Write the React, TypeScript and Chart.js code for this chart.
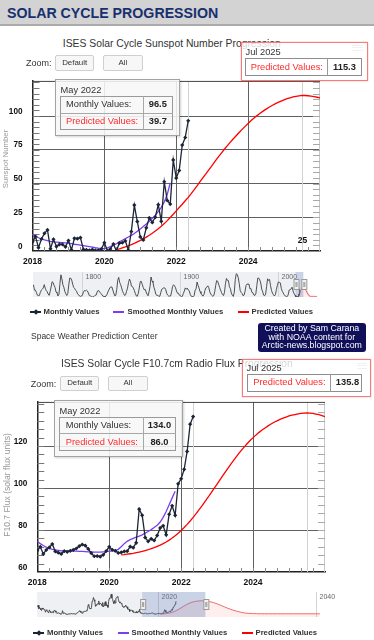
import React, { useEffect, useRef } from 'react';
import { Chart, registerables } from 'chart.js';
Chart.register(...registerables);

const FONT = '"Liberation Sans", Arial, Helvetica, sans-serif';
const MONTHS = ['Jan', 'Feb', 'Mar', 'Apr', 'May', 'Jun', 'Jul', 'Aug', 'Sep', 'Oct', 'Nov', 'Dec'];

// ---------------- DATA ----------------
// Monthly series start Jan 2018
const MAIN_START = 2018;
// Predicted series start May 2020
const PRED_START = 2020 + 4 / 12;
// Navigator extension of predictions: half-year steps from mid 2026
const EXT_START = 2026.5;
const EXT_STEP = 0.5;
// Yearly sunspot history start (yearly means)
const HIST_START = 1749;
// F10.7 navigator history start (Aug 2004, monthly)
const F107_HIST_START = 2004 + 7 / 12;

const xTickLabels = [2018, 2020, 2022, 2024];
const ssnTickLabels = [0, 25, 50, 75, 100];
const f107TickLabels = [60, 80, 100, 120];
const navTicks1 = [1800, 1900, 2000];
const navTicks2 = [2020, 2040];

const ssnMonthly = [
  6.8, 10.7, 2.5, 8.9, 13.1, 15.6, 1.6, 8.7, 3.3, 4.9, 4.9, 3.1,
  7.7, 0.8, 9.4, 9.1, 9.9, 1.2, 0.9, 0.5, 1.1, 0.4, 0.5, 1.5,
  6.2, 0.2, 1.5, 5.2, 0.2, 5.8, 6.1, 7.5, 0.6, 14.4, 34.0, 21.8,
  10.4, 8.2, 17.2, 24.5, 21.2, 25.0, 34.3, 22.0, 51.3, 37.4, 34.8, 67.5,
  54.0, 59.7, 78.5, 84.1, 96.5,
];
const ssnSmoothed = [
  12.5, 11.0, 9.8, 8.9, 8.2, 7.6, 7.1, 6.8, 6.6, 6.4, 6.2, 6.0,
  5.8, 5.4, 5.0, 4.7, 4.4, 4.0, 3.6, 3.2, 2.8, 2.4, 2.1, 1.9,
  1.8, 2.4, 3.2, 4.2, 5.4, 6.8, 8.0, 9.2, 10.4, 11.6, 13.0, 14.6,
  16.3, 18.1, 20.0, 22.0, 24.2, 26.6, 29.2, 32.3, 36.3, 42.0, 50.5,
];
const ssnPredicted = [
  1.0, 1.6, 2.3, 3.0, 3.8, 4.7, 5.7, 6.8,
  7.9, 9.0, 10.3, 11.7, 13.2, 14.8, 16.5, 18.3, 20.3, 22.5, 24.8, 27.2,
  29.7, 32.2, 34.6, 37.2, 39.7, 42.5, 45.5, 48.5, 51.5, 54.5, 57.5, 60.5,
  63.5, 66.5, 69.5, 72.4, 75.2, 77.9, 80.5, 83.0, 85.4, 87.8, 90.1, 92.3,
  94.5, 96.6, 98.5, 100.3, 102.0, 103.6, 105.1, 106.5, 107.8, 109.0, 110.1, 111.1,
  112.0, 112.8, 113.5, 114.1, 114.6, 115.0, 115.3, 115.2, 115.0, 114.7, 114.3, 113.9,
  113.5,
];
const ssnPredictedExt = [
  110, 105, 98, 89, 79, 68, 57, 46, 36, 27, 20, 14, 10, 8, 7, 7, 7, 7, 7, 7, 7, 7, 7, 7, 7, 7, 7, 7, 7,
];
const ssnYearly = [
  134.7, 139.0, 79.5, 79.7, 51.2, 20.3, 16.0, 17.0, 54.0, 79.3, 90.0, 104.8, 143.2, 102.0, 75.2, 60.7, 34.8, 19.0, 63.0, 116.3,
  176.8, 168.0, 136.0, 110.8, 58.0, 51.0, 11.7, 33.0, 154.2, 257.3, 209.8, 141.3, 113.5, 64.2, 38.0, 17.0, 40.2, 138.2, 220.0, 218.2,
  196.8, 149.8, 111.0, 100.0, 78.2, 68.3, 35.5, 26.7, 10.7, 6.8, 11.3, 24.2, 56.7, 75.0, 71.8, 79.2, 70.3, 46.8, 16.8, 13.5,
  4.2, 0.0, 2.3, 8.3, 20.3, 23.2, 59.0, 76.3, 68.3, 52.9, 38.5, 24.2, 9.2, 6.3, 2.2, 11.4, 28.2, 59.9, 83.0, 108.5,
  115.2, 117.4, 80.8, 44.3, 13.4, 19.5, 85.8, 192.7, 227.3, 168.7, 143.0, 105.5, 63.3, 40.3, 18.1, 25.1, 65.8, 102.7, 166.3, 208.3,
  182.5, 126.3, 122.0, 102.7, 74.1, 39.0, 12.7, 8.2, 43.4, 104.4, 178.3, 182.2, 146.6, 112.1, 83.5, 89.2, 57.8, 30.7, 13.9, 62.8,
  123.6, 232.0, 185.3, 169.2, 110.1, 74.5, 28.3, 18.9, 20.7, 5.7, 10.0, 53.7, 90.5, 99.0, 106.1, 105.8, 86.3, 42.4, 21.8, 11.2,
  10.4, 11.8, 59.5, 121.7, 142.0, 130.0, 106.6, 69.4, 43.8, 44.4, 20.2, 15.7, 4.6, 8.5, 40.8, 70.1, 105.5, 90.1, 102.8, 80.9,
  73.2, 30.9, 9.5, 6.0, 2.4, 16.1, 79.0, 95.0, 173.6, 134.6, 105.7, 62.7, 43.5, 23.7, 9.7, 27.9, 74.0, 106.5, 114.7, 129.7,
  108.2, 59.4, 35.1, 18.6, 9.2, 14.6, 60.2, 132.8, 190.6, 182.6, 148.0, 113.0, 79.2, 50.8, 27.1, 16.1, 55.3, 154.3, 214.7, 193.0,
  190.7, 118.9, 98.3, 45.0, 20.1, 6.6, 54.2, 200.7, 269.3, 261.7, 225.1, 159.0, 76.4, 53.4, 39.9, 15.0, 22.0, 66.8, 132.9, 150.0,
  149.4, 148.0, 94.4, 97.6, 54.1, 49.2, 22.5, 18.4, 39.3, 131.0, 220.1, 218.9, 198.9, 162.4, 91.0, 60.5, 20.6, 14.8, 33.9, 123.0,
  211.1, 191.8, 203.3, 133.0, 76.1, 44.9, 25.1, 11.6, 28.9, 88.3, 136.3, 173.9, 170.4, 163.6, 99.3, 65.3, 45.8, 24.7, 12.6, 4.2,
  4.8, 24.9, 80.8, 84.5, 94.0, 113.3, 69.8, 39.8, 21.7,
];

const f107Monthly = [
  70.2, 72.0, 68.6, 70.5, 71.7, 73.3, 69.8, 69.2, 68.6, 69.9, 69.6, 70.1,
  70.5, 71.2, 72.3, 73.1, 72.6, 71.0, 69.0, 67.5, 67.6, 67.3, 68.2, 70.0,
  72.0, 70.6, 70.1, 69.1, 69.3, 69.8, 69.9, 72.1, 71.6, 73.9, 89.9, 87.0,
  76.4, 74.6, 75.8, 75.0, 77.4, 81.0, 82.0, 77.7, 87.5, 91.5, 87.0, 102.0,
  104.4, 108.9, 117.4, 130.4, 134.0,
];
const f107Smoothed = [
  74.5, 73.5, 72.6, 71.8, 71.2, 70.8, 70.5, 70.3, 70.1, 70.0, 70.0, 69.9,
  69.9, 69.9, 69.8, 69.8, 69.7, 69.6, 69.6, 69.5, 69.5, 69.5, 69.6, 69.7,
  69.9, 70.0, 70.2, 70.8, 72.0, 73.5, 74.6, 75.4, 76.0, 76.6, 77.1, 77.7,
  78.5, 79.3, 80.2, 81.2, 82.3, 83.8, 86.0, 88.8, 92.0, 95.3, 98.5,
];
const f107Predicted = [
  68.2, 68.3, 68.5, 68.7, 68.9, 69.2, 69.5, 69.8,
  70.2, 70.6, 71.1, 71.6, 72.2, 72.8, 73.5, 74.3, 75.2, 76.2, 77.3, 78.5,
  79.8, 81.2, 82.7, 84.3, 86.0, 87.8, 89.7, 91.6, 93.6, 95.6, 97.7, 99.8,
  101.9, 104.0, 106.1, 108.2, 110.2, 112.2, 114.1, 116.0, 117.8, 119.5, 121.1, 122.6,
  124.0, 125.3, 126.5, 127.6, 128.6, 129.6, 130.5, 131.3, 132.0, 132.7, 133.3, 133.8,
  134.3, 134.7, 135.0, 135.3, 135.5, 135.7, 135.8, 135.7, 135.5, 135.2, 134.9, 134.5,
  134.0,
];
const f107PredictedExt = [
  132, 127, 120, 112, 103, 95, 88, 82, 77, 73, 71, 70, 69.5, 69, 69, 69, 69, 69, 69, 69, 69, 69, 69, 69, 69, 69, 69, 69, 69,
];
const f107History = [
  122, 103, 106, 113, 95,
  102, 97, 90, 86, 99, 93, 96, 90, 91, 77, 86, 90,
  83, 76, 75, 89, 81, 76, 75, 79, 77, 74, 86, 84,
  84, 77, 72, 72, 74, 74, 72, 69, 67, 68, 70, 85,
  72, 71, 73, 70, 68, 66, 66, 67, 68, 68, 69, 69,
  70, 70, 69, 69, 70, 69, 68, 67, 71, 73, 73, 77,
  82, 85, 83, 76, 74, 72, 80, 79, 81, 82, 82, 84,
  83, 95, 116, 113, 96, 96, 94, 102, 134, 137, 153, 141,
  133, 107, 115, 113, 121, 120, 135, 115, 123, 123, 120, 108,
  127, 104, 111, 125, 131, 110, 115, 114, 102, 132, 148, 147,
  158, 170, 150, 144, 130, 122, 137, 124, 146, 153, 155, 158,
  141, 129, 126, 129, 121, 123, 107, 106, 102, 104, 109, 113,
  103, 105, 93, 93, 93, 81, 86, 86, 87, 86, 78, 75,
  77, 77, 74, 81, 74, 75, 80, 78, 92, 76, 72, 71,
];

// ---------------- helpers ----------------
const monthlyPts = (start: number, vals: number[]) => vals.map((y, i) => ({ x: start + i / 12, y }));
const stepPts = (start: number, step: number, vals: number[]) => vals.map((y, i) => ({ x: start + i * step, y }));
const monthLabel = (x: number) => {
  const m = Math.round(x * 12);
  return `${MONTHS[m % 12]} ${Math.floor(m / 12)}`;
};
const lastX = (vals: number[]) => MAIN_START + (vals.length - 1) / 12;
const predAt = (pred: number[], x: number) => pred[Math.round((x - PRED_START) * 12)];
const peakX = (pred: number[]) => PRED_START + pred.indexOf(Math.max(...pred)) / 12;

function seg(ctx: any, x1: number, y1: number, x2: number, y2: number) {
  ctx.beginPath();
  ctx.moveTo(x1, y1);
  ctx.lineTo(x2, y2);
  ctx.stroke();
}

// ---------------- main chart ----------------
function MainChart(p: any) {
  const ref = useRef<HTMLCanvasElement>(null);
  useEffect(() => {
    const frame = {
      id: 'frame',
      beforeDatasetsDraw(chart: any) {
        const { ctx, chartArea: a } = chart;
        const x = chart.scales.x;
        const y = chart.scales.y;
        ctx.save();
        ctx.lineWidth = 1;
        ctx.strokeStyle = '#d2d2d2';
        p.crosshairs.forEach((v: number) => {
          const px = Math.round(x.getPixelForValue(v)) + 0.5;
          seg(ctx, px, a.top, px, a.bottom);
        });
        ctx.strokeStyle = '#c8c8c8';
        seg(ctx, a.right - 0.5, a.top, a.right - 0.5, a.bottom);
        ctx.strokeStyle = '#444';
        seg(ctx, a.left, a.top + 0.5, a.right, a.top + 0.5);
        for (let v = y.min + p.minorStep; v < y.max - 0.01; v += p.minorStep) {
          const py = Math.round(y.getPixelForValue(v)) + 0.5;
          ctx.strokeStyle = '#777';
          seg(ctx, a.left, py, a.left + 7, py);
          ctx.strokeStyle = '#aaa';
          seg(ctx, a.right - 7, py, a.right, py);
        }
        ctx.strokeStyle = '#888';
        for (let v = x.min + 1 / 3; v < x.max - 0.01; v += 1 / 3) {
          const px = Math.round(x.getPixelForValue(v)) + 0.5;
          seg(ctx, px, a.bottom - 4, px, a.bottom);
        }
        ctx.restore();
      },
    };
    const tickFont = { family: FONT, size: 8.5, weight: 'bold' as const };
    const chart = new Chart(ref.current as HTMLCanvasElement, {
      type: 'line',
      data: {
        datasets: [
          {
            label: 'Monthly Values',
            data: monthlyPts(MAIN_START, p.monthly),
            borderColor: '#1b2536',
            backgroundColor: '#1b2536',
            borderWidth: 1.3,
            pointStyle: 'rectRot',
            pointRadius: 2.1,
            pointBorderWidth: 0,
            pointBackgroundColor: '#1b2536',
            tension: 0,
          },
          {
            label: 'Smoothed Monthly Values',
            data: monthlyPts(MAIN_START, p.smoothed),
            borderColor: '#7b3cf2',
            borderWidth: 1.3,
            pointRadius: 0,
            tension: 0,
          },
          {
            label: 'Predicted Values',
            data: monthlyPts(PRED_START, p.predicted),
            borderColor: '#ff0000',
            borderWidth: 1.3,
            pointRadius: 0,
            tension: 0,
          },
        ],
      } as any,
      options: {
        responsive: false,
        animation: false,
        devicePixelRatio: 1,
        events: [],
        layout: { padding: { top: 10, right: 374 - p.plotRight, left: 0, bottom: 0 } },
        plugins: { legend: { display: false }, tooltip: { enabled: false } },
        scales: {
          x: {
            type: 'linear',
            min: 2018,
            max: 2026,
            afterFit: (s: any) => { s.height = 19; },
            grid: {
              drawTicks: false,
              lineWidth: 1,
              color: (c: any) => (c.tick && (c.tick.value <= 2018 || c.tick.value >= 2026) ? 'rgba(0,0,0,0)' : '#606060'),
            },
            border: { color: '#222', width: 1.5 },
            ticks: {
              stepSize: 2,
              autoSkip: false,
              maxRotation: 0,
              padding: 6,
              color: '#111',
              font: tickFont,
              callback: (v: any) => (xTickLabels.includes(Number(v)) ? String(v) : ''),
            },
          },
          y: {
            type: 'linear',
            min: p.yMin,
            max: p.yMax,
            afterFit: (s: any) => { s.width = p.plotLeft; },
            grid: {
              drawTicks: false,
              lineWidth: 1,
              color: (c: any) =>
                c.tick && (c.tick.value === p.yMin || !p.yLabels.includes(c.tick.value)) ? 'rgba(0,0,0,0)' : '#606060',
            },
            border: { color: '#222', width: 1.5 },
            ticks: {
              stepSize: p.yStep,
              includeBounds: false,
              padding: 10,
              labelOffset: -4.7,
              color: '#111',
              font: { family: FONT, size: 8.2, weight: 'bold' },
              callback: (v: any) => (p.yLabels.includes(Number(v)) ? String(v) : ''),
            },
          },
        },
      } as any,
      plugins: [frame],
    });
    return () => chart.destroy();
  }, []);
  return (
    <canvas
      ref={ref}
      width={374}
      height={204}
      style={{ position: 'absolute', left: 0, top: p.top, width: 374, height: 204 }}
    />
  );
}

// ---------------- navigator ----------------
function NavChart(p: any) {
  const ref = useRef<HTMLCanvasElement>(null);
  useEffect(() => {
    const nav = {
      id: 'nav',
      beforeDatasetsDraw(chart: any) {
        const { ctx, chartArea: a } = chart;
        const x = chart.scales.x;
        ctx.save();
        const sx = x.getPixelForValue(p.selFrom);
        ctx.fillStyle = '#eef0f4';
        ctx.fillRect(a.left, a.top, sx - a.left, a.bottom - a.top);
        ctx.strokeStyle = '#d4d4d4';
        ctx.lineWidth = 1;
        ctx.fillStyle = '#666';
        ctx.font = `7px ${FONT}`;
        ctx.textBaseline = 'middle';
        p.ticks.forEach((v: number) => {
          const px = Math.round(x.getPixelForValue(v)) + 0.5;
          seg(ctx, px, a.top, px, a.bottom);
          ctx.fillText(String(v), px + 3, a.top + 5);
        });
        ctx.restore();
      },
      afterDatasetsDraw(chart: any) {
        const { ctx, chartArea: a } = chart;
        const x = chart.scales.x;
        ctx.save();
        const x1 = x.getPixelForValue(p.selFrom);
        const x2 = x.getPixelForValue(p.selTo);
        ctx.fillStyle = 'rgba(102,125,180,0.35)';
        ctx.fillRect(x1, a.top, x2 - x1, a.bottom - a.top);
        const cy = (a.top + a.bottom) / 2;
        [x1 + 1, x2 + 1].forEach((hx) => {
          ctx.fillStyle = '#f2f2f2';
          ctx.strokeStyle = '#999';
          ctx.lineWidth = 1;
          ctx.fillRect(hx - 2.5, cy - 5, 5, 10);
          ctx.strokeRect(hx - 2.5, cy - 5, 5, 10);
          seg(ctx, hx - 0.5, cy - 2.5, hx - 0.5, cy + 2.5);
          seg(ctx, hx + 0.5, cy - 2.5, hx + 0.5, cy + 2.5);
        });
        ctx.restore();
      },
    };
    const chart = new Chart(ref.current as HTMLCanvasElement, {
      type: 'line',
      data: {
        datasets: [
          {
            data: p.hist,
            borderColor: '#3e3e3e',
            borderWidth: 0.9,
            pointRadius: 0,
            tension: 0,
            fill: false,
          },
          {
            data: p.pred,
            borderColor: '#f25c5c',
            borderWidth: 0.9,
            pointRadius: 0,
            tension: 0,
            fill: 'start',
            backgroundColor: 'rgba(255,90,90,0.1)',
          },
        ],
      } as any,
      options: {
        responsive: false,
        animation: false,
        devicePixelRatio: 1,
        events: [],
        layout: { padding: { left: p.left, right: 374 - p.right, top: 6, bottom: 3 } },
        plugins: { legend: { display: false }, tooltip: { enabled: false } },
        scales: {
          x: { type: 'linear', display: false, min: p.xMin, max: p.xMax },
          y: { type: 'linear', display: false, min: p.yMin, max: p.yMax },
        },
      } as any,
      plugins: [nav],
    });
    return () => chart.destroy();
  }, []);
  return (
    <canvas
      ref={ref}
      width={374}
      height={34}
      style={{ position: 'absolute', left: 0, top: p.top, width: 374, height: 34 }}
    />
  );
}

// ---------------- HTML pieces ----------------
const abs = (o: React.CSSProperties): React.CSSProperties => ({ position: 'absolute', ...o });

function Text({ x, cy, size, children, color = '#333', weight = 400, align = 'left', w = 0 }: any) {
  const h = Math.ceil(size * 2);
  const style: React.CSSProperties = {
    position: 'absolute',
    top: cy - h / 2,
    height: h,
    lineHeight: `${h}px`,
    fontSize: size,
    fontWeight: weight,
    color,
    whiteSpace: 'nowrap',
    fontFamily: FONT,
  };
  if (align === 'center') {
    style.left = x - w / 2;
    style.width = w;
    style.textAlign = 'center';
  } else {
    style.left = x;
  }
  return <div style={style}>{children}</div>;
}

function Button({ x, y, w, h, label }: any) {
  return (
    <div
      style={abs({
        left: x,
        top: y,
        width: w,
        height: h,
        boxSizing: 'border-box',
        background: '#f7f7f7',
        border: '1px solid #cfcfcf',
        borderRadius: 2,
        color: '#333',
        fontFamily: FONT,
        fontSize: 7.9,
        lineHeight: `${h - 2}px`,
        textAlign: 'center',
      })}
    >
      {label}
    </div>
  );
}

function Hamburger({ x, y, w }: any) {
  return (
    <>
      {[0, 1, 2].map((i) => (
        <div key={i} style={abs({ left: x, top: y + i * 2.8, width: w, height: 1.2, background: '#b8b8b8' })} />
      ))}
    </>
  );
}

function LegendRow({ cy, items }: any) {
  return (
    <>
      {items.map((it: any, i: number) => (
        <React.Fragment key={i}>
          <div style={abs({ left: it.mx, top: cy - 1, width: 11, height: 2, background: it.color })} />
          {it.diamond && (
            <div
              style={abs({ left: it.mx + 3.5, top: cy - 2, width: 4, height: 4, background: it.color, transform: 'rotate(45deg)' })}
            />
          )}
          <Text x={it.tx} cy={cy} size={7.7} weight={700} color="#333">{it.label}</Text>
        </React.Fragment>
      ))}
    </>
  );
}

function TipA(p: any) {
  return (
    <>
      <div
        style={abs({
          left: p.box[0],
          top: p.box[1],
          width: p.box[2],
          height: p.box[3],
          boxSizing: 'border-box',
          background: 'rgba(247,247,247,0.88)',
          border: '1px solid #a3a3a3',
          boxShadow: '1px 1px 2px rgba(0,0,0,0.18)',
        })}
      />
      <Text x={p.box[0] + 5.5} cy={p.dateCy} size={9.3} color="#333">{p.date}</Text>
      <div
        style={abs({
          left: p.tab[0],
          top: p.tab[1],
          width: p.tab[2],
          height: p.tab[3],
          boxSizing: 'border-box',
          border: '1px solid #9a9a9a',
        })}
      />
      <div style={abs({ left: p.tab[0], top: p.rowDiv, width: p.tab[2], height: 1, background: '#a8a8a8' })} />
      <div style={abs({ left: p.colDiv, top: p.tab[1], width: 1, height: p.tab[3], background: '#a8a8a8' })} />
      <Text x={p.textX} cy={p.row1} size={9.3} color="#333">Monthly Values:</Text>
      <Text x={p.valX} cy={p.row1} size={9.3} weight={700} color="#222" align="center" w={30}>{p.v1}</Text>
      <Text x={p.textX} cy={p.row2} size={9.3} color="#ff2a2a">Predicted Values:</Text>
      <Text x={p.valX} cy={p.row2} size={9.3} weight={700} color="#222" align="center" w={30}>{p.v2}</Text>
    </>
  );
}

function TipB(p: any) {
  return (
    <>
      <div
        style={abs({
          left: p.box[0],
          top: p.box[1],
          width: p.box[2],
          height: p.box[3],
          boxSizing: 'border-box',
          background: 'rgba(255,255,255,0.8)',
          border: '1.5px solid #f37d7d',
          boxShadow: '0 0 1.5px rgba(255,80,80,0.5)',
        })}
      />
      <Text x={p.box[0] + 4.5} cy={p.dateCy} size={9.3} color="#333">{p.date}</Text>
      <div
        style={abs({
          left: p.tab[0],
          top: p.tab[1],
          width: p.tab[2],
          height: p.tab[3],
          boxSizing: 'border-box',
          border: '1px solid #8e8e8e',
        })}
      />
      <div style={abs({ left: p.colDiv, top: p.tab[1], width: 1, height: p.tab[3], background: '#9a9a9a' })} />
      <Text x={p.textX} cy={p.row} size={9.3} color="#ff2a2a">Predicted Values:</Text>
      <Text x={p.valX} cy={p.row} size={9.3} weight={700} color="#222" align="center" w={34}>{p.v}</Text>
    </>
  );
}

function YTitle({ cx, cy, size, children }: any) {
  const w = 160;
  const h = Math.ceil(size * 2);
  return (
    <div
      style={abs({
        left: cx - w / 2,
        top: cy - h / 2,
        width: w,
        height: h,
        lineHeight: `${h}px`,
        textAlign: 'center',
        fontFamily: FONT,
        fontSize: size,
        color: '#999',
        whiteSpace: 'nowrap',
        transform: 'rotate(-90deg)',
      })}
    >
      {children}
    </div>
  );
}

export default function App() {
  const ssnLastX = lastX(ssnMonthly);
  const ssnPeakX = peakX(ssnPredicted);
  const f107LastX = lastX(f107Monthly);
  const f107PeakX = peakX(f107Predicted);

  const nav1Hist = [
    ...ssnYearly.map((y, i) => ({ x: HIST_START + i + 0.5, y })),
    ...monthlyPts(MAIN_START, ssnMonthly),
  ];
  const nav1Pred = [...monthlyPts(PRED_START, ssnPredicted), ...stepPts(EXT_START, EXT_STEP, ssnPredictedExt)];
  const nav2Hist = [...monthlyPts(F107_HIST_START, f107History), ...monthlyPts(MAIN_START, f107Monthly)];
  const nav2Pred = [...monthlyPts(PRED_START, f107Predicted), ...stepPts(EXT_START, EXT_STEP, f107PredictedExt)];

  const legendItems1 = [
    { mx: 30, tx: 43.5, color: '#1b2536', diamond: true, label: 'Monthly Values' },
    { mx: 113, tx: 127.5, color: '#7b3cf2', label: 'Smoothed Monthly Values' },
    { mx: 237.5, tx: 251.5, color: '#ff0000', label: 'Predicted Values' },
  ];
  const legendItems2 = [
    { mx: 33, tx: 47, color: '#1b2536', diamond: true, label: 'Monthly Values' },
    { mx: 117.5, tx: 131.5, color: '#7b3cf2', label: 'Smoothed Monthly Values' },
    { mx: 241.5, tx: 255.5, color: '#ff0000', label: 'Predicted Values' },
  ];

  return (
    <div style={abs({ left: 0, top: 0, width: 374, height: 640, overflow: 'hidden', background: '#fff', fontFamily: FONT })}>
      {/* header */}
      <div style={abs({ left: 0, top: 0, width: 374, height: 24, background: '#d3d3d3', borderBottom: '2px solid #ababab' })} />
      <Text x={7} cy={13.7} size={14.2} weight={700} color="#183070">SOLAR CYCLE PROGRESSION</Text>

      {/* chart 1 */}
      <MainChart
        top={66}
        plotLeft={32.5}
        plotRight={320}
        yMin={0}
        yMax={126}
        yStep={25}
        yLabels={ssnTickLabels}
        minorStep={25 / 6}
        monthly={ssnMonthly}
        smoothed={ssnSmoothed}
        predicted={ssnPredicted}
        crosshairs={[ssnLastX, ssnPeakX]}
      />
      <NavChart
        top={266}
        left={33}
        right={320}
        xMin={1750}
        xMax={2043}
        yMin={0}
        yMax={290}
        hist={nav1Hist}
        pred={nav1Pred}
        selFrom={2018}
        selTo={2026}
        ticks={navTicks1}
      />
      <Text x={171.8} cy={43} size={10.35} color="#333" align="center" w={260}>ISES Solar Cycle Sunspot Number Progression</Text>
      <Text x={26} cy={63.3} size={9} color="#333">Zoom:</Text>
      <Button x={55} y={55} w={39.3} h={15.7} label="Default" />
      <Button x={103.3} y={55} w={39.3} h={15.7} label="All" />
      <YTitle cx={5.5} cy={158.5} size={7.8}>Sunspot Number</YTitle>
      <Text x={302.5} cy={240} size={8.5} weight={700} color="#111" align="center" w={20}>25</Text>
      <LegendRow cy={311.7} items={legendItems1} />
      <TipA
        box={[55, 79, 125, 56.5]}
        date={monthLabel(ssnLastX)}
        dateCy={90.7}
        tab={[60, 96, 112.5, 34]}
        rowDiv={113}
        colDiv={143.3}
        textX={66}
        valX={157.8}
        row1={104.7}
        row2={121.7}
        v1={ssnMonthly[ssnMonthly.length - 1].toFixed(1)}
        v2={predAt(ssnPredicted, ssnLastX).toFixed(1)}
      />
      <Hamburger x={352.3} y={44.5} w={10.5} />
      <TipB
        box={[241, 42, 127, 39]}
        date={monthLabel(ssnPeakX)}
        dateCy={52.3}
        tab={[245, 57.7, 117, 18.5]}
        colDiv={327.3}
        textX={250.7}
        row={67}
        valX={344.5}
        v={Math.max(...ssnPredicted).toFixed(1)}
      />

      {/* middle texts */}
      <Text x={31} cy={336.7} size={8.5} color="#333">Space Weather Prediction Center</Text>
      <div
        style={abs({
          left: 257.7,
          top: 322.5,
          width: 108.3,
          height: 29,
          boxSizing: 'border-box',
          paddingTop: 1.6,
          background: '#10105a',
          borderRadius: 3,
          color: '#fff',
          fontFamily: FONT,
          fontSize: 8.8,
          lineHeight: '8.4px',
          textAlign: 'center',
          whiteSpace: 'nowrap',
        })}
      >
        <div>Created by Sam Carana</div>
        <div>with NOAA content for</div>
        <div>Arctic-news.blogspot.com</div>
      </div>

      {/* chart 2 */}
      <MainChart
        top={387}
        plotLeft={37.3}
        plotRight={325}
        yMin={60}
        yMax={141}
        yStep={20}
        yLabels={f107TickLabels}
        minorStep={4}
        monthly={f107Monthly}
        smoothed={f107Smoothed}
        predicted={f107Predicted}
        crosshairs={[f107LastX, f107PeakX]}
      />
      <NavChart
        top={586}
        left={37}
        right={323}
        xMin={2004.68}
        xMax={2040.9}
        yMin={52.5}
        yMax={181}
        hist={nav2Hist}
        pred={nav2Pred}
        selFrom={2018}
        selTo={2026}
        ticks={navTicks2}
      />
      <Text x={176.9} cy={363.3} size={10.3} color="#333" align="center" w={280}>ISES Solar Cycle F10.7cm Radio Flux Progression</Text>
      <Text x={30.7} cy={384} size={9} color="#333">Zoom:</Text>
      <Button x={60} y={376} w={39.3} h={14.7} label="Default" />
      <Button x={108.3} y={376} w={39.3} h={14.7} label="All" />
      <YTitle cx={7} cy={484.5} size={8.6}>F10.7 Flux (solar flux units)</YTitle>
      <LegendRow cy={632.7} items={legendItems2} />
      <TipA
        box={[54, 400, 129, 57]}
        date={monthLabel(f107LastX)}
        dateCy={411}
        tab={[59, 416.7, 117, 34]}
        rowDiv={433.3}
        colDiv={142.7}
        textX={65.7}
        valX={159.5}
        row1={425}
        row2={442}
        v1={f107Monthly[f107Monthly.length - 1].toFixed(1)}
        v2={predAt(f107Predicted, f107LastX).toFixed(1)}
      />
      <Hamburger x={356.7} y={362.5} w={10.6} />
      <TipB
        box={[242, 359, 129, 38]}
        date={monthLabel(f107PeakX)}
        dateCy={368.3}
        tab={[247, 374, 115, 17.5]}
        colDiv={330}
        textX={253.3}
        row={382.5}
        valX={347.5}
        v={Math.max(...f107Predicted).toFixed(1)}
      />
    </div>
  );
}
